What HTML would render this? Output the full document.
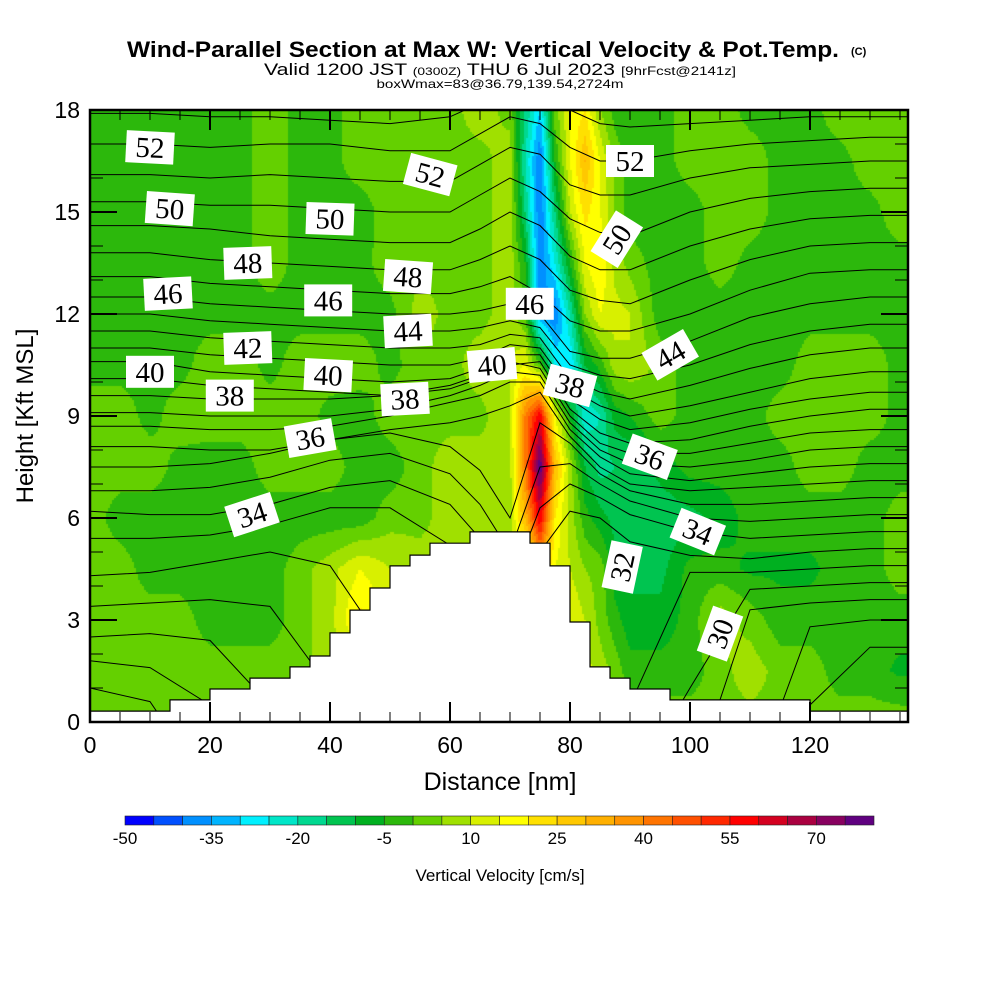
<!DOCTYPE html>
<html><head><meta charset="utf-8">
<style>
html,body{margin:0;padding:0;background:#fff;}
#wrap{position:relative;width:1000px;height:1000px;overflow:hidden;}
#field{position:absolute;left:90px;top:110px;}
svg{position:absolute;left:0;top:0;}
text{font-family:"Liberation Sans",sans-serif;}
</style></head>
<body>
<div id="wrap">
<canvas id="field" width="818" height="612"></canvas>
<svg id="svg" width="1000" height="1000">
  <g>
    <text x="127" y="57" font-size="22" font-weight="bold" textLength="712" lengthAdjust="spacingAndGlyphs">Wind-Parallel Section at Max W: Vertical Velocity &amp; Pot.Temp.</text>
    <text x="851" y="55" font-size="11" font-weight="bold">(C)</text>
    <text x="500" y="75" font-size="17" text-anchor="middle" textLength="472" lengthAdjust="spacingAndGlyphs">Valid 1200 JST <tspan font-size="11">(0300Z)</tspan> THU 6 Jul 2023 <tspan font-size="12">[9hrFcst@2141z]</tspan></text>
    <text x="500" y="88" font-size="12" text-anchor="middle" textLength="247" lengthAdjust="spacingAndGlyphs">boxWmax=83@36.79,139.54,2724m</text>
  </g>
  <g id="contours"></g>
  <g id="terrain"></g>
  <g id="labels"></g>
  <g id="axes"></g>
  <text x="500" y="790" font-size="25" text-anchor="middle">Distance [nm]</text>
  <text transform="translate(33,416) rotate(-90)" font-size="24" text-anchor="middle">Height [Kft MSL]</text>
  <g id="cbar"></g>
  <text x="500" y="881" font-size="17" text-anchor="middle">Vertical Velocity [cm/s]</text>
</svg>
</div>
<script>
// ---- data ----
const gridX = [0,5,10,15,20,25,30,35,40,45,50,55,60,65,70,72.5,75,77.5,80,82.5,85,87.5,90,95,100,105,110,115,120,125,130,135];
const gridH = [18,16.5,15,13.5,12,10.5,9,7.5,6,4.5,3,1.5,0];
const wRow18  = [-2,-2,-2,-2,-2,-2,3,-2,-2,3,3,3,3,8,3,-15,-30,3,15,20,5,-2,-3,-3,3,3,-2,-2,-2,3,3,3];
const wRow165 = [-2,-2,-2,-2,-2,-2,3,-2,-2,3,3,3,3,3,8,-20,-40,-5,15,30,15,3,-3,-3,3,3,3,-2,-2,-2,3,3];
const wRow15  = [-2,-2,-2,-2,-2,-2,3,-2,-2,-3,3,3,3,3,8,-15,-40,-15,10,22,15,5,-3,-3,-3,3,3,-2,-2,-2,-2,3];
const wRow135 = [-2,-2,-2,-2,-2,-2,3,-2,-2,-2,3,3,3,3,8,-5,-40,-25,-5,15,20,8,3,-3,-3,3,-2,-2,-2,-2,-2,-2];
const wRow12  = [-2,-2,-2,-2,-2,-2,-2,-2,-2,-2,-2,8,3,3,8,0,-35,-40,-20,5,15,12,10,-3,-3,-3,-3,-3,-2,-2,-2,-2];
const wRow105 = [-2,-2,-2,-2,3,3,-2,3,3,3,-2,3,3,8,10,15,0,-25,-30,-10,-3,8,10,3,-3,-3,-3,-3,3,3,3,-2];
const wRow9   = [3,3,-2,3,3,3,3,3,-2,-3,3,3,3,3,10,40,60,15,-5,-25,-20,-8,-5,3,-3,-3,-3,3,3,3,3,-2];
const wRow75  = [3,3,3,-2,-3,-3,3,3,3,-3,-3,3,8,8,8,40,80,30,8,-10,-17,-15,-15,-8,-3,-3,-3,-3,3,3,-3,-3];
const wRow6   = [3,-3,-3,-3,-3,-3,-3,-3,-3,-3,3,3,8,8,8,30,60,20,8,-3,-8,-12,-12,-14,-12,-8,-3,-3,-3,-3,-3,3];
const wRow45  = [3,3,-3,-3,-3,-3,-3,3,8,15,10,8,8,8,8,8,30,15,10,5,3,-8,-12,-12,-3,-3,-6,-6,-6,-3,-3,3];
const wRow3   = [3,3,3,3,-3,-3,-3,3,8,22,15,8,8,8,8,8,8,10,15,10,3,-3,-8,-8,-3,8,3,-3,-3,-3,-3,-3];
const wRow15b = [3,3,3,3,3,3,3,3,8,8,8,8,8,8,8,8,8,10,15,12,8,3,-3,-3,-3,3,8,3,3,-3,-3,-6];
const wRow0   = [3,3,3,3,3,3,3,3,3,3,3,3,3,3,3,3,3,3,3,3,3,3,3,3,3,3,3,3,3,3,3,3];
const wRows = [wRow18,wRow165,wRow15,wRow135,wRow12,wRow105,wRow9,wRow75,wRow6,wRow45,wRow3,wRow15b,wRow0];

const bandColors = ["#0000ff","#0050ff","#0090ff","#00b4ff","#00f0ff","#00e6c8","#00d890","#00c450","#00b020","#2cb80c","#64d000","#a0e000","#d8f000","#ffff00","#ffe000","#ffc800","#ffb000","#ff9400","#ff7400","#ff5000","#ff2800","#ff0000","#d40020","#aa0040","#880060","#600080"];
const cbarTicks = [-50,-35,-20,-5,10,25,40,55,70];

const nodeX = [0,10,20,30,40,50,60,65,70,75,80,85,90,100,110,120,130,137];
const thetaLevels = [53,52,51,50,49,48,47,46,45,44,43,42,41,40,39,38,37,36,35,34,33,32,31,30,29,28];
const thetaHeights = [
 [17.9,17.9,17.8,17.8,17.7,17.6,17.8,18.2,18.6,18.5,18.0,17.6,17.5,17.6,17.7,17.8,17.8,17.8],
 [17.0,17.0,16.9,17.0,17.0,16.8,16.8,17.3,17.8,17.6,16.9,16.5,16.5,16.8,17.0,17.1,17.2,17.2],
 [16.1,16.1,16.0,16.1,16.0,15.9,15.9,16.4,16.9,16.7,15.8,15.5,15.5,16.0,16.3,16.4,16.5,16.5],
 [15.3,15.3,15.2,15.2,15.1,15.0,15.0,15.5,16.0,15.6,14.8,14.4,14.3,15.0,15.4,15.6,15.7,15.7],
 [14.6,14.6,14.5,14.3,14.2,14.1,14.1,14.5,15.0,14.6,13.7,13.3,13.3,14.0,14.5,14.8,14.9,14.9],
 [13.8,13.8,13.6,13.5,13.4,13.3,13.3,13.6,14.0,13.6,12.7,12.4,12.3,13.0,13.6,14.0,14.1,14.1],
 [13.1,13.1,12.9,12.8,12.7,12.6,12.6,12.8,13.1,12.6,11.8,11.5,11.5,12.0,12.7,13.2,13.3,13.3],
 [12.5,12.5,12.3,12.2,12.1,12.0,12.0,12.1,12.3,12.0,10.9,10.7,10.7,11.2,11.9,12.3,12.5,12.5],
 [12.0,12.0,11.8,11.7,11.6,11.5,11.5,11.6,11.8,11.6,10.5,10.2,10.1,10.5,11.1,11.5,11.7,11.7],
 [11.5,11.5,11.3,11.2,11.1,11.0,11.0,11.1,11.4,11.3,10.1,9.7,9.5,9.9,10.4,10.8,11.0,11.0],
 [11.0,11.0,10.8,10.7,10.6,10.5,10.5,10.7,11.1,11.0,9.8,9.3,9.0,9.3,9.7,10.1,10.3,10.3],
 [10.6,10.6,10.3,10.2,10.1,10.0,10.1,10.4,10.8,10.8,9.5,8.9,8.6,8.8,9.2,9.5,9.7,9.7],
 [10.1,10.1,9.9,9.8,9.7,9.6,9.8,10.1,10.5,10.6,9.2,8.5,8.2,8.3,8.7,9.0,9.2,9.2],
 [9.6,9.6,9.5,9.5,9.5,9.6,9.9,10.2,10.6,10.4,9.0,8.2,7.9,7.9,8.2,8.5,8.6,8.6],
 [9.1,9.1,9.0,9.0,9.0,9.2,9.6,9.9,10.3,10.2,8.8,8.0,7.6,7.5,7.7,8.0,8.1,8.1],
 [8.7,8.7,8.6,8.6,8.7,9.0,9.4,9.6,10.0,10.0,8.6,7.8,7.3,7.1,7.3,7.5,7.6,7.6],
 [8.1,8.1,8.0,8.0,8.3,8.6,8.8,9.0,9.3,9.7,8.4,7.5,7.0,6.8,6.9,7.0,7.1,7.1],
 [7.5,7.5,7.6,7.9,8.3,8.5,8.1,7.4,6.0,8.8,8.2,7.3,6.8,6.4,6.4,6.5,6.6,6.6],
 [6.8,6.8,6.9,7.2,7.7,7.9,7.3,6.4,5.0,7.5,7.6,7.0,6.5,6.0,5.9,6.0,6.1,6.1],
 [6.2,6.1,6.1,6.4,6.9,7.1,6.4,5.4,4.0,6.3,7.0,6.6,6.1,5.6,5.4,5.5,5.6,5.6],
 [5.4,5.4,5.5,5.8,6.3,6.3,5.2,4.0,-2,5.0,6.2,6.0,5.3,4.9,4.8,5.0,5.1,5.1],
 [4.3,4.4,4.7,5.0,4.6,2.0,-2,-2,-2,-2,-2,-2,0.5,4.4,4.4,4.5,4.6,4.6],
 [3.4,3.5,3.6,3.4,1.0,-2,-2,-2,-2,-2,-2,-2,-2,1.0,3.9,4.0,4.1,4.1],
 [2.5,2.6,2.4,0.5,-2,-2,-2,-2,-2,-2,-2,-2,-2,-2,3.3,3.5,3.6,3.6],
 [1.8,1.6,0.5,-2,-2,-2,-2,-2,-2,-2,-2,-2,-2,-2,-2,2.8,3.0,3.0],
 [1.0,0.6,-2,-2,-2,-2,-2,-2,-2,-2,-2,-2,-2,-2,-2,0.5,2.2,2.2]
];

const terrainEdges = [0,13.33,20,26.67,33.33,36.67,40,43.33,46.67,50,53.33,56.67,63.33,73.33,76.67,80,83.33,86.67,90,96.67,120,136.33];
const terrainHeights = [0.32,0.65,0.97,1.29,1.62,1.94,2.62,3.29,3.94,4.59,4.91,5.26,5.59,5.26,4.59,2.94,1.62,1.29,0.97,0.65,0.32];

const labelTheta = [52,50,52,50,48,46,48,46,44,42,40,40,38,38,36,40,46,38,52,50,44,36,34,34,32,30];
const labelX = [10,13.3,56.7,40,26.3,13,53,39.7,53,26.3,10,39.7,23.3,52.5,36.7,67,73.3,80,90,87.8,96.7,93.3,101.3,27,88.7,105];
const labelH = [16.9,15.1,16.1,14.8,13.5,12.6,13.1,12.4,11.5,11.0,10.3,10.2,9.6,9.5,8.35,10.5,12.3,9.9,16.5,14.2,10.8,7.8,5.6,6.1,4.56,2.6];
const labelAng = [3,4,15,2,-2,-3,4,0,-3,-2,0,3,0,-3,-10,-5,0,15,0,-58,-30,20,22,-18,-78,-70];

const xTicks = [0,20,40,60,80,100,120];
const yTicks = [0,3,6,9,12,15,18];

// ---- scales ----
const X0=90, X1=908, Y0=722, Y1=110;
const sx = v => X0 + v*6;
const sy = h => Y0 - h*34;
const NS="http://www.w3.org/2000/svg";
function mk(tag, attrs, parent){const e=document.createElementNS(NS,tag);for(const k in attrs)e.setAttribute(k,attrs[k]);parent.appendChild(e);return e;}
function bandOf(v){let i=Math.floor((v+50)/5);return Math.max(0,Math.min(25,i));}

// ---- heatmap ----
(function(){
  const cv=document.getElementById('field'),ctx=cv.getContext('2d');
  const nx=gridX.length, ny=gridH.length;
  function val(xn,h){
    let i=0; while(i<nx-2 && xn>=gridX[i+1]) i++;
    let fx=(xn-gridX[i])/(gridX[i+1]-gridX[i]); fx=Math.max(0,Math.min(1,fx));
    let hr=(18-h)/1.5; let j=Math.min(ny-2,Math.max(0,Math.floor(hr))); let fy=Math.max(0,Math.min(1,hr-j));
    const a=wRows[j][i],b=wRows[j][i+1],c=wRows[j+1][i],d=wRows[j+1][i+1];
    return (a*(1-fx)+b*fx)*(1-fy)+(c*(1-fx)+d*fx)*fy;
  }
  const cw=2, ch=2;
  for(let py=0;py<612;py+=ch){
    for(let px=0;px<818;px+=cw){
      const xn=(px+cw/2)/6, h=(612-py-ch/2)/34;
      ctx.fillStyle=bandColors[bandOf(val(xn,h))];
      ctx.fillRect(px,py,cw,ch);
    }
  }
})();

// ---- contours ----
(function(){
  const g=document.getElementById('contours');
  const cp=mk('clipPath',{id:'plotclip'},g); mk('rect',{x:X0,y:Y1,width:X1-X0,height:Y0-Y1},cp);
  g.setAttribute('clip-path','url(#plotclip)');
  thetaLevels.forEach((lv,k)=>{
    const hs=thetaHeights[k];
    let d=nodeX.map((x,i)=>(i?'L':'M')+sx(x).toFixed(1)+','+sy(hs[i]).toFixed(1)).join(' ');
    const p=mk('path',{d:d,fill:'none',stroke:'#000','stroke-width':1},g);
    
    
  });
})();

// ---- terrain ----
(function(){
  const g=document.getElementById('terrain');
  let d='M'+sx(0)+','+Y0;
  terrainHeights.forEach((h,i)=>{d+=' L'+sx(terrainEdges[i]).toFixed(1)+','+sy(h).toFixed(1)+' L'+sx(terrainEdges[i+1]).toFixed(1)+','+sy(h).toFixed(1);});
  d+=' L'+X1+','+Y0+' Z';
  const p=mk('path',{d:d,fill:'#fff',stroke:'#000','stroke-width':1.2},g);
  
  
})();

// ---- labels ----
(function(){
  const g=document.getElementById('labels');
  labelTheta.forEach((t,i)=>{
    const cx=sx(labelX[i]), cy=sy(labelH[i]);
    const lg=mk('g',{transform:`translate(${cx.toFixed(1)},${cy.toFixed(1)}) rotate(${labelAng[i]})`},g);
    
    
    mk('rect',{x:-24,y:-16,width:48,height:32,fill:'#fff'},lg);
    const tx=mk('text',{x:0,y:10,'font-size':29,'text-anchor':'middle',style:'font-family:"Liberation Serif",serif'},lg);
    tx.textContent=t;
  });
})();

// ---- axes ----
(function(){
  const g=document.getElementById('axes');
  for(let v=0;v<=135;v+=5){
    const major=v%20===0, L=major?20:10;
    mk('line',{x1:sx(v),x2:sx(v),y1:Y0,y2:Y0-L,stroke:'#000','stroke-width':major?2:1},g);
    mk('line',{x1:sx(v),x2:sx(v),y1:Y1,y2:Y1+L,stroke:'#000','stroke-width':major?2:1},g);
  }
  for(let h=0;h<=18;h+=1){
    const major=h%3===0, L=major?27:13;
    mk('line',{x1:X0,x2:X0+L,y1:sy(h),y2:sy(h),stroke:'#000','stroke-width':major?2:1},g);
    mk('line',{x1:X1,x2:X1-L,y1:sy(h),y2:sy(h),stroke:'#000','stroke-width':major?2:1},g);
  }
  const fr=mk('rect',{x:X0,y:Y1,width:X1-X0,height:Y0-Y1,fill:'none',stroke:'#000','stroke-width':2.5},g);
  
  
  xTicks.forEach(v=>{const t=mk('text',{x:sx(v),y:753,'font-size':23,'text-anchor':'middle'},g);t.textContent=v;
    
    });
  yTicks.forEach(v=>{const t=mk('text',{x:80,y:sy(v)+8,'font-size':23,'text-anchor':'end'},g);t.textContent=v;
    
    });
})();

// ---- colorbar ----
(function(){
  const g=document.getElementById('cbar');
  const x0=125, w=749/bandColors.length;
  bandColors.forEach((c,i)=>{
    const r=mk('rect',{x:(x0+i*w).toFixed(2),y:816,width:w.toFixed(2),height:9,fill:c,stroke:'#222','stroke-width':0.6},g);
    
    
  });
  cbarTicks.forEach(v=>{
    const t=mk('text',{x:x0+(v+50)/5*w,y:844,'font-size':17,'text-anchor':'middle'},g);
    t.textContent=v;
    
    
  });
})();
</script>
</body></html>
